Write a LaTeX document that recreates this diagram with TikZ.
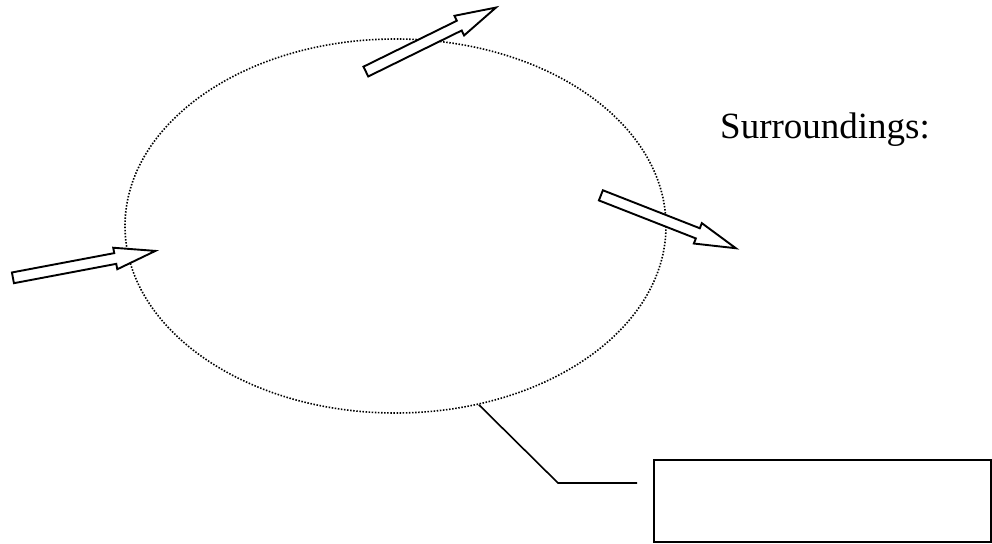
\documentclass[tikz,border=0pt]{standalone}
\usepackage{fontspec}
\setmainfont{Liberation Serif}
\usetikzlibrary{shapes.geometric,shapes.arrows}
\tikzset{
  flow/.style={draw,single arrow,line width=1.9pt,inner xsep=0pt,inner ysep=4.5pt,
    minimum height=145pt,single arrow head extend=5.5pt,single arrow tip angle=30,
    anchor=tail,fill=white},
  boundary/.style={draw,ellipse,dash pattern=on 1.5pt off 1.6pt,line width=1.6pt,
    minimum width=541pt,minimum height=374pt,inner sep=0pt}
}

\begin{document}
\begin{tikzpicture}[x=1pt,y=-1pt]
\useasboundingbox (0,0) rectangle (992,543);
\node[boundary] (sys) at (395.5,226) {};
\node[flow,rotate=10.7] (inflow) at (12,278) {};
\node[flow,rotate=26.2] (upflow) at (365,72) {};
\node[flow,rotate=-21.4] (outflow) at (600,195) {};
\node[anchor=base west,font=\fontsize{37}{42}\selectfont,inner sep=0pt] (surr) at (720,138) {Surroundings:};
\node[draw,line width=1.6pt,anchor=north west,minimum width=337pt,minimum height=82pt] (box) at (653,459) {};
\coordinate (knee) at (558,483);
\coordinate (lend) at (637,483);
\draw[line width=1.6pt] (sys.-65) -- (knee) -- (lend);
\end{tikzpicture}
\end{document}
